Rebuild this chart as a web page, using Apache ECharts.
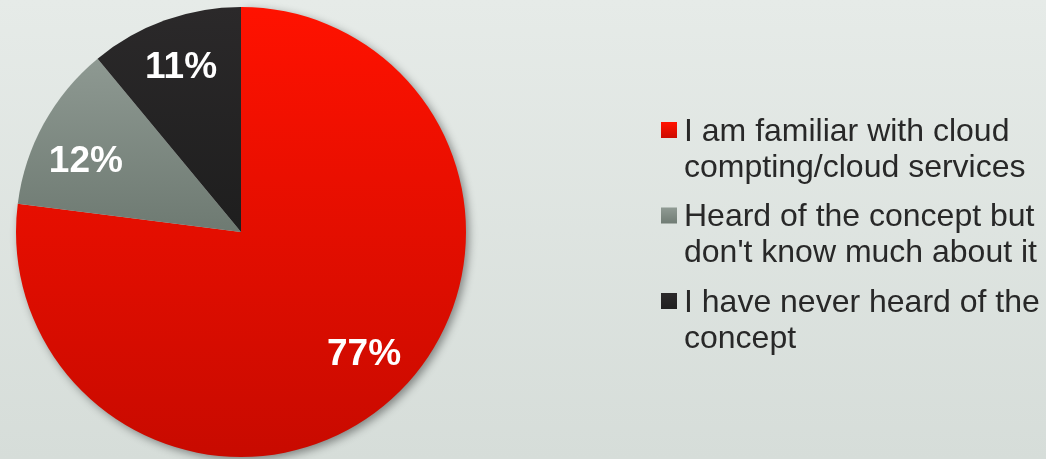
<!DOCTYPE html>
<html>
<head>
<meta charset="utf-8">
<style>
html,body{margin:0;padding:0;width:1046px;height:459px;overflow:hidden;}
#c{width:1046px;height:459px;background:linear-gradient(180deg,#e6ebe8 0%,#d6ddd9 100%);}
</style>
<script src="https://cdn.jsdelivr.net/npm/echarts@6/dist/echarts.min.js"></script>
</head>
<body>
<div id="c"></div>
<script>
var categories = [
  'I am familiar with cloud\ncompting/cloud services',
  "Heard of the concept but\ndon't know much about it",
  'I have never heard of the\nconcept'
];
var values = [77, 12, 11];
var topColors = ['#ff1200', '#8e9992', '#2b292a'];
var bottomColors = ['#c80a00', '#6e7a72', '#1e1e1e'];
var labelShift = [[6, -10], [0, 15], [0, 2]];

function grad(a, b, s, e) {
  return {type: 'linear', x: 0, y: 0, x2: 0, y2: 1,
    colorStops: [{offset: s, color: a}, {offset: e, color: b}]};
}

var pieData = categories.map(function (name, i) {
  var d = {name: name, value: values[i],
    itemStyle: {color: grad(topColors[i], bottomColors[i], 0, 1)}};
  if (i === 0) {
    d.itemStyle.shadowBlur = 8;
    d.itemStyle.shadowOffsetX = 3;
    d.itemStyle.shadowOffsetY = 3;
    d.itemStyle.shadowColor = 'rgba(0,0,0,0.4)';
  }
  return d;
});
var labelData = categories.map(function (name, i) {
  return {name: name, value: values[i], label: {offset: labelShift[i]}};
});
var legendData = categories.map(function (name, i) {
  return {name: name, itemStyle: {color: grad(topColors[i], bottomColors[i], 0.125, 0.347), borderWidth: 0}};
});

var chart = echarts.init(document.getElementById('c'), null, {renderer: 'canvas'});
chart.setOption({
  backgroundColor: 'transparent',
  animation: false,
  legend: {
    orient: 'vertical',
    left: 661,
    top: 114,
    padding: 0,
    itemGap: 13.5,
    itemWidth: 18,
    itemHeight: 72,
    icon: 'path://M0,8h16v16h-16z M0,0h18 M0,72h18',
    selectedMode: false,
    data: legendData,
    textStyle: {
      color: '#282828',
      fontFamily: 'Liberation Sans, Arial, sans-serif',
      fontSize: 32,
      lineHeight: 36
    }
  },
  series: [
    {
      type: 'pie',
      center: [241, 232],
      radius: [0, 225],
      startAngle: 90,
      clockwise: true,
      silent: true,
      itemStyle: {borderWidth: 0},
      label: {show: false},
      labelLine: {show: false},
      data: pieData
    },
    {
      type: 'pie',
      center: [241, 232],
      radius: [123, 225],
      startAngle: 90,
      clockwise: true,
      silent: true,
      legendHoverLink: false,
      itemStyle: {color: 'rgba(0,0,0,0)', borderWidth: 0},
      label: {
        show: true,
        position: 'inside',
        formatter: '{c}%',
        color: '#ffffff',
        fontFamily: 'Liberation Sans, Arial, sans-serif',
        fontWeight: 'bold',
        fontSize: 37
      },
      labelLine: {show: false},
      data: labelData
    }
  ]
});
</script>
</body>
</html>
